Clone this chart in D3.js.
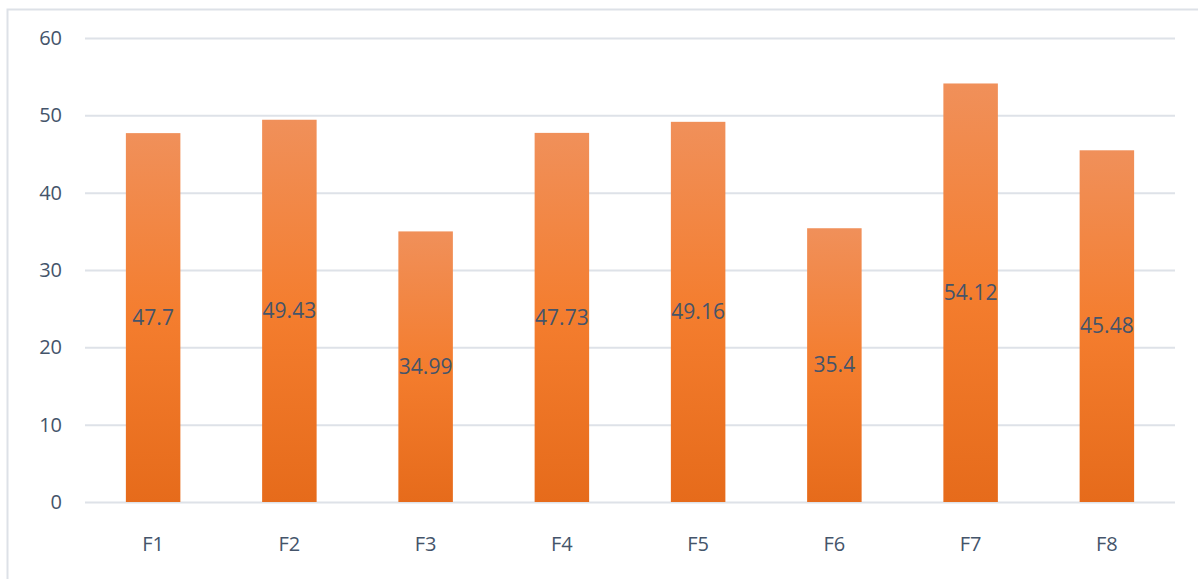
<!DOCTYPE html>
<html>
<head>
<meta charset="utf-8">
<script src="https://cdn.jsdelivr.net/npm/d3@7"></script>
<style>
  body { margin: 0; background: #fff; }
  text { font-family: "Open Sans", sans-serif; }
</style>
</head>
<body>
<div id="chart"></div>
<script>
const categories = ['F1', 'F2', 'F3', 'F4', 'F5', 'F6', 'F7', 'F8'];
const values = [47.7, 49.43, 34.99, 47.73, 49.16, 35.4, 54.12, 45.48];
const yTicks = [0, 10, 20, 30, 40, 50, 60];

const W = 1198, H = 579;
const plotLeft = 85, plotRight = 1175, plotTop = 38, plotBottom = 502;

const svg = d3.select('#chart')
  .append('svg')
    .attr('width', W)
    .attr('height', H);

// gradient for bars
const grad = svg.append('defs')
  .append('linearGradient')
    .attr('id', 'barGrad')
    .attr('x1', 0).attr('y1', 0)
    .attr('x2', 0).attr('y2', 1);
grad.append('stop').attr('offset', '0%').attr('stop-color', '#F0905A');
grad.append('stop').attr('offset', '50%').attr('stop-color', '#F47D2E');
grad.append('stop').attr('offset', '100%').attr('stop-color', '#E66B1B');

// chart frame
svg.append('rect')
    .attr('x', 7.5)
    .attr('y', 9.5)
    .attr('width', W + 10)
    .attr('height', H + 10)
    .attr('fill', 'none')
    .attr('stroke', '#DDE1E7')
    .attr('stroke-width', 2);

const x = d3.scaleBand()
    .domain(categories)
    .range([plotLeft, plotRight])
    .paddingInner(0.6)
    .paddingOuter(0.3);

const y = d3.scaleLinear()
    .domain([0, 60])
    .range([plotBottom, plotTop]);

// gridlines
svg.append('g')
  .selectAll('line')
  .data(yTicks)
  .join('line')
    .attr('x1', plotLeft)
    .attr('x2', plotRight)
    .attr('y1', d => y(d) + 0.5)
    .attr('y2', d => y(d) + 0.5)
    .attr('stroke', '#DEE2E8')
    .attr('stroke-width', 2);

// y labels
svg.append('g')
  .selectAll('text')
  .data(yTicks)
  .join('text')
    .attr('x', 62)
    .attr('y', d => y(d))
    .attr('dy', '0.35em')
    .attr('text-anchor', 'end')
    .attr('font-size', '20px')
    .attr('fill', '#44546A')
    .text(d => d);

// bars
svg.append('g')
  .selectAll('rect')
  .data(values)
  .join('rect')
    .attr('x', (d, i) => x(categories[i]))
    .attr('y', d => y(d))
    .attr('width', x.bandwidth())
    .attr('height', d => y(0) - y(d))
    .attr('fill', 'url(#barGrad)');

// value labels
svg.append('g')
  .selectAll('text')
  .data(values)
  .join('text')
    .attr('x', (d, i) => x(categories[i]) + x.bandwidth() / 2)
    .attr('y', d => (y(d) + y(0)) / 2)
    .attr('dy', '0.35em')
    .attr('text-anchor', 'middle')
    .attr('font-size', '21px')
    .attr('fill', '#44546A')
    .text(d => d);

// x labels
svg.append('g')
  .selectAll('text')
  .data(categories)
  .join('text')
    .attr('x', d => x(d) + x.bandwidth() / 2)
    .attr('y', 544)
    .attr('dy', '0.35em')
    .attr('text-anchor', 'middle')
    .attr('font-size', '20px')
    .attr('fill', '#44546A')
    .text(d => d);
</script>
</body>
</html>
